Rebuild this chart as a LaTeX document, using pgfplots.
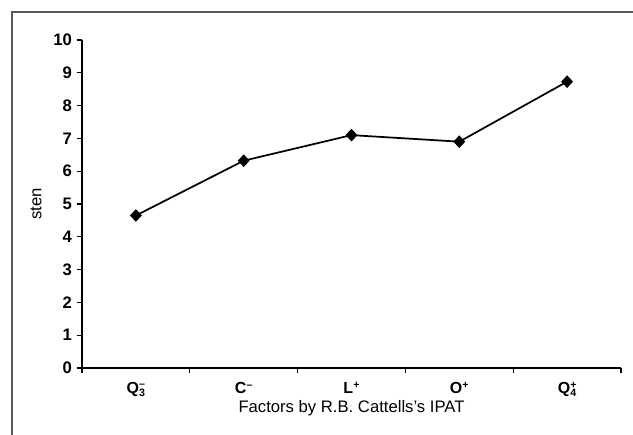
\documentclass[border=0pt]{standalone}
\usepackage{pgfplots}
\pgfplotsset{compat=1.18}
\usepackage{fontspec}
\setmainfont{Liberation Sans}
\begin{document}
\begin{tikzpicture}
\useasboundingbox (0pt,0pt) rectangle (474.75pt,-326.25pt);
\draw[gray!70!black, line width=1pt] (9pt,-340pt) -- (9pt,-9pt) -- (490pt,-9pt);
\begin{axis}[
  at={(61.5pt,-276pt)}, anchor=south west,
  scale only axis, width=404.25pt, height=246pt,
  xmin=-0.5, xmax=4.5, ymin=0, ymax=10,
  axis lines*=left,
  axis line style={line width=1pt},
  every tick/.style={black, line width=1pt},
  xtick={0,1,2,3,4},
  xticklabels={
    {Q\makebox[0pt][l]{\raisebox{4pt}{\footnotesize\bfseries –}}\raisebox{-2.5pt}{\footnotesize 3}},
    {C\raisebox{3.5pt}{\footnotesize\bfseries –}},
    {L\raisebox{3.5pt}{\footnotesize\bfseries +}},
    {O\raisebox{3.5pt}{\footnotesize\bfseries +}},
    {Q\makebox[0pt][l]{\raisebox{4pt}{\footnotesize\bfseries +}}\raisebox{-2.5pt}{\footnotesize 4}}},
  x tick label style={font=\bfseries\fontsize{12}{13}\selectfont, yshift=-3pt},
  major x tick style={draw=none},
  minor xtick={-0.5,0.5,1.5,2.5,3.5,4.5},
  minor tick length=4pt,
  ytick={0,1,...,10},
  major tick length=4pt,
  tick align=outside,
  y tick label style={font=\bfseries\fontsize{12.5}{13}\selectfont},
  /pgf/number format/assume math mode=true,
  xlabel={Factors by R.B. Cattells’s IPAT},
  ylabel={sten},
  label style={font=\fontsize{12.5}{14}\selectfont},
  xlabel style={yshift=4pt},
  ylabel style={yshift=2pt},
  clip=false,
]
\addplot[black, line width=1.3pt, mark=diamond*, mark size=3.8pt, mark options={fill=black, xscale=1.25}]
  coordinates {(0,4.65) (1,6.32) (2,7.1) (3,6.9) (4,8.73)};
\end{axis}
\end{tikzpicture}
\end{document}
